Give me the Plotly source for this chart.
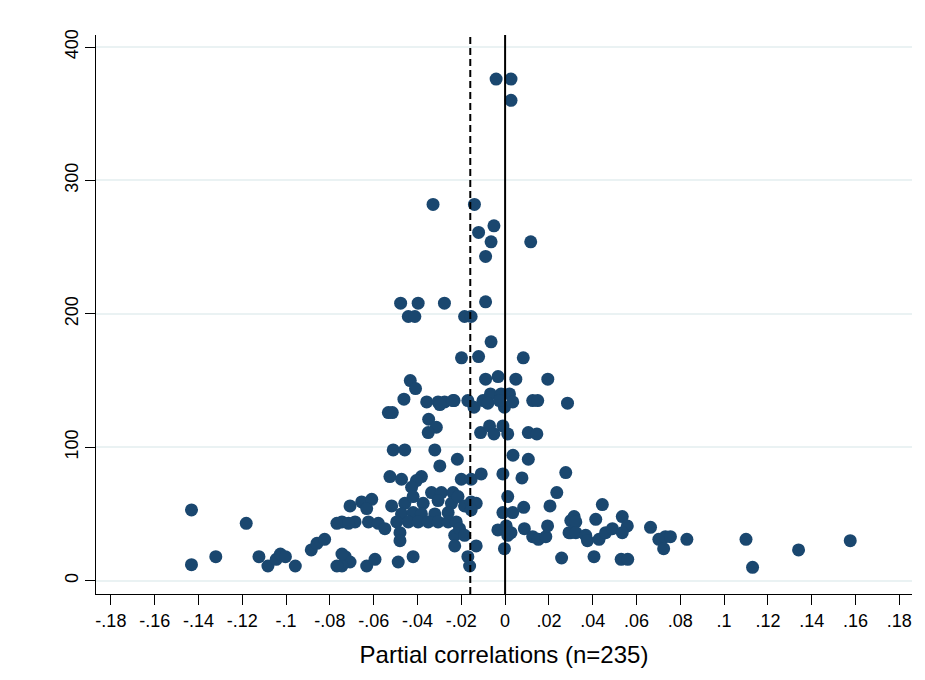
import plotly.graph_objects as go

# Funnel plot: partial correlations against their precision
corr = [
    -0.0041, 0.0027, 0.0027, -0.0329, -0.0140,
    -0.0051, -0.0121, -0.0064, 0.0117, -0.0089,
    -0.0477, -0.0397, -0.0277, -0.0089,
    -0.0442, -0.0412, -0.0185, -0.0155,
    -0.0064, -0.0199, -0.0121, 0.0083,
    -0.0089, -0.0032, 0.0049, 0.0195,
    -0.0233, -0.0170, -0.0142, -0.0101, -0.0067, -0.0079, -0.0018, 0.0020, -0.0003, 0.0035, -0.0026, 0.0126, 0.0149, 0.0285,
    -0.0112, -0.0071, -0.0051, -0.0010, 0.0012, 0.0106, 0.0145,
    -0.0218, 0.0036, 0.0106,
    -0.0433, -0.0409, -0.0462, -0.0533, -0.0515, -0.0358, -0.0306, -0.0276, -0.0238, -0.0298, -0.0349, -0.0314, -0.0351, -0.0511, -0.0458, -0.0321, -0.0298,
    -0.0526, -0.0473, -0.0382, -0.0405, -0.0427, -0.0336, -0.0291, -0.0238,
    -0.0708, -0.0655, -0.0609, -0.0632, -0.0518, -0.0458, -0.0420, -0.0374, -0.0306, -0.0245, -0.0215,
    -0.0473, -0.0420, -0.0382, -0.0321, -0.0260,
    -0.0745, -0.0685, -0.0624, -0.0579, -0.0549, -0.0495, -0.0442, -0.0397, -0.0351, -0.0306, -0.0260, -0.0223,
    -0.0480, -0.0480, -0.0230, -0.0230,
    -0.0730, -0.0708, -0.0745, -0.0632, -0.0594, -0.0488, -0.0420,
    -0.0200, -0.0155, -0.0109, -0.0010, 0.0077, 0.0277,
    0.0236, -0.0185, -0.0155, -0.0132, -0.0155, 0.0012, -0.0010, 0.0035, 0.0085, 0.0205,
    -0.0208, -0.0185, -0.0033, 0.0005, 0.0012, 0.0027, 0.0088, 0.0126, 0.0152, 0.0186, 0.0194, 0.0292,
    -0.0132, -0.0003, -0.0170, -0.0162, 0.0258,
    0.0444, 0.0315, 0.0300, 0.0323, 0.0414, 0.0535, 0.0558, 0.0300, 0.0323, 0.0368, 0.0376, 0.0429, 0.0459, 0.0490, 0.0535,
    0.0664, 0.0702, 0.0732, 0.0755, 0.0724, 0.0830, 0.0406, 0.0530, 0.0560,
    0.1100, 0.1130, 0.1340, 0.1576,
    -0.1432, -0.1432, -0.1321, -0.1182, -0.1124, -0.1083, -0.1045, -0.1026, -0.1003, -0.0958,
    -0.0885, -0.0859, -0.0824, -0.0768, -0.0715, -0.0745, -0.0768,
]
precision = [
    376, 376, 360, 282, 282,
    266, 261, 254, 254, 243,
    208, 208, 208, 209,
    198, 198, 198, 198,
    179, 167, 168, 167,
    151, 153, 151, 151,
    135, 135, 130, 135, 140, 133, 140, 140, 130, 134, 135, 135, 135, 133,
    111, 116, 110, 116, 110, 111, 110,
    91, 94, 91,
    150, 144, 136, 126, 126, 134, 134, 134, 135, 132, 121, 115, 111, 98, 98, 98, 86,
    78, 76, 78, 75, 70, 66, 66, 66,
    56, 59, 61, 54, 56, 58, 63, 58, 60, 58, 63,
    50, 51, 50, 50, 51,
    44, 44, 44, 43, 39, 44, 44, 44, 44, 44, 44, 44,
    36, 30, 34, 26,
    18, 14, 11, 11, 16, 14, 18,
    76, 76, 80, 80, 77, 81,
    66, 56, 59, 58, 53, 63, 51, 51, 55, 56,
    39, 34, 38, 41, 34, 36, 39, 33, 31, 33, 41, 36,
    26, 24, 18, 11, 17,
    57, 48, 45, 44, 46, 48, 41, 36, 36, 34, 30, 31, 36, 39, 36,
    40, 31, 33, 33, 24, 31, 18, 16, 16,
    31, 10, 23, 30,
    53, 12, 18, 43, 18, 11, 16, 20, 18, 11,
    23, 28, 31, 43, 43, 20, 11,
]

x_ticks = [-0.18, -0.16, -0.14, -0.12, -0.10, -0.08, -0.06, -0.04, -0.02, 0,
           0.02, 0.04, 0.06, 0.08, 0.10, 0.12, 0.14, 0.16, 0.18]
x_tick_labels = ["-.18", "-.16", "-.14", "-.12", "-.1", "-.08", "-.06", "-.04", "-.02", "0",
                 ".02", ".04", ".06", ".08", ".1", ".12", ".14", ".16", ".18"]
y_ticks = [0, 100, 200, 300, 400]

mean_effect = -0.0159

NAVY = "#1a476f"
GRID = "#eaf2f3"

fig = go.Figure()
fig.add_trace(go.Scatter(
    x=corr, y=precision, mode="markers",
    marker=dict(size=13, color=NAVY, line=dict(width=0)),
    hoverinfo="x+y", showlegend=False,
))

# reference lines: zero effect (solid) and mean effect (dashed)
fig.add_shape(type="line", xref="x", yref="paper", x0=0, x1=0, y0=0, y1=1,
              line=dict(color="black", width=2))
fig.add_shape(type="line", xref="x", yref="paper", x0=mean_effect, x1=mean_effect, y0=0, y1=1,
              line=dict(color="black", width=2, dash="7px,4px"))

font_family = "Liberation Sans, Arial, sans-serif"
tick_font = dict(family=font_family, color="black", size=18)

fig.update_layout(
    width=925, height=680,
    margin=dict(l=96, r=13, t=35, b=86),
    paper_bgcolor="white", plot_bgcolor="white",
    font=dict(family=font_family, color="black", size=18),
    xaxis=dict(
        range=[-0.1868, 0.1858],
        tickvals=x_ticks, ticktext=x_tick_labels, tickfont=tick_font,
        ticks="outside", ticklen=10, tickwidth=1, tickcolor="black",
        showline=True, linecolor="black", linewidth=1,
        showgrid=False, zeroline=False,
        title=dict(text="Partial correlations (n=235)",
                   font=dict(family=font_family, color="black", size=24), standoff=16),
    ),
    yaxis=dict(
        range=[-10, 409],
        tickvals=y_ticks, tickangle=-90, tickfont=tick_font,
        ticks="outside", ticklen=10, tickwidth=1, tickcolor="black",
        showline=True, linecolor="black", linewidth=1,
        showgrid=True, gridcolor=GRID, gridwidth=2, zeroline=False,
    ),
)

fig.write_html("out.html")
